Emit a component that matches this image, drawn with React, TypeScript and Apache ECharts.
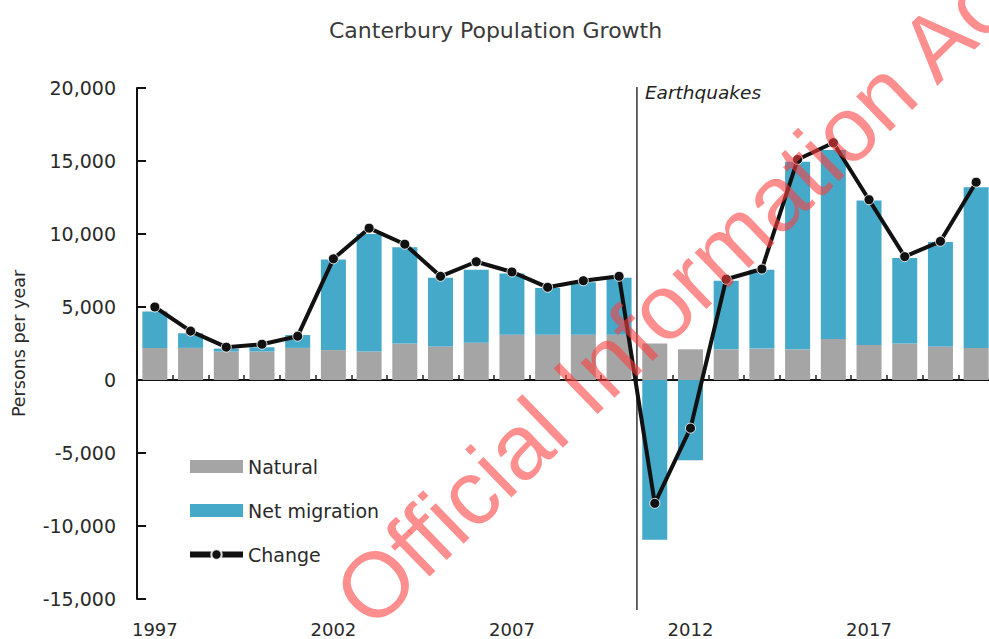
import React, { useEffect, useRef } from "react";
import * as echarts from "echarts";

const years = [
  "1997", "1998", "1999", "2000", "2001", "2002", "2003", "2004", "2005", "2006", "2007", "2008",
  "2009", "2010", "2011", "2012", "2013", "2014", "2015", "2016", "2017", "2018", "2019", "2020",
];
const natural = [
  2200, 2200, 1950, 1950, 2200, 2050, 1950, 2500, 2300, 2550, 3100, 3100,
  3100, 3100, 2500, 2100, 2100, 2150, 2100, 2800, 2400, 2500, 2300, 2200,
];
const netMigration = [
  2500, 1000, 200, 300, 880, 6200, 8050, 6600, 4700, 5000, 4200, 3200,
  3600, 3900, -10950, -5500, 4700, 5400, 12850, 12950, 9900, 5850, 7150, 11000,
];
const change = [
  5000, 3350, 2250, 2450, 3000, 8300, 10400, 9300, 7100, 8100, 7400, 6350,
  6800, 7100, -8450, -3300, 6900, 7600, 15100, 16250, 12350, 8450, 9500, 13550,
];
const yMin = -15000;
const yMax = 20000;
const yStep = 5000;
const earthquakeAfter = "2010";
const earthquakeBefore = "2011";

const FONT = "DejaVu Sans";
const TXT = "#2a2a2a";

export default function App() {
  const ref = useRef<HTMLDivElement>(null);
  useEffect(() => {
    const chart = echarts.init(ref.current!, null, { renderer: "svg" });
    chart.setOption({
      animation: false,
      backgroundColor: "#ffffff",
      title: {
        text: "Canterbury Population Growth",
        left: 324,
        top: 14,
        textStyle: { fontFamily: FONT, fontSize: 22, fontWeight: "normal", color: "#3a3a3a" },
      },
      grid: { left: 137, top: 88, width: 857, height: 511, containLabel: false, outerBoundsMode: "none" },
      legend: {
        orient: "vertical",
        left: 187,
        top: 457,
        padding: 0,
        itemWidth: 53,
        itemHeight: 13,
        itemGap: 25,
        textStyle: { fontFamily: FONT, fontSize: 19, color: TXT },
        data: [
          { name: "Natural", icon: "rect" },
          { name: "Net migration", icon: "rect" },
          { name: "Change", lineStyle: { width: 6, color: "#111" } },
        ],
      },
      xAxis: [
        {
          type: "category",
          data: years,
          axisLine: { onZero: true, lineStyle: { color: "#111", width: 2 } },
          axisTick: { show: true, inside: true, length: 5, interval: 0, lineStyle: { color: "#222", width: 1.5 } },
          axisLabel: { show: false },
          splitLine: { show: false },
        },
        {
          type: "category",
          data: years,
          position: "bottom",
          axisLine: { show: false, onZero: false },
          axisTick: { show: false },
          axisLabel: { interval: 4, margin: 21, fontFamily: FONT, fontSize: 18, color: TXT },
          splitLine: { show: false },
        },
      ],
      yAxis: {
        type: "value",
        min: yMin,
        max: yMax,
        interval: yStep,
        name: "Persons per year",
        nameLocation: "middle",
        nameRotate: 90,
        nameGap: 109,
        nameTextStyle: { fontFamily: FONT, fontSize: 17.5, color: TXT },
        axisLine: { show: true, lineStyle: { color: "#111", width: 2 } },
        axisTick: { show: true, inside: true, length: 9, lineStyle: { color: "#111", width: 2 } },
        axisLabel: {
          margin: 21,
          fontFamily: FONT,
          fontSize: 19,
          color: TXT,
          formatter: (v: number) => v.toLocaleString("en-US"),
        },
        splitLine: { show: false },
      },
      series: [
        {
          name: "Natural",
          type: "bar",
          stack: "growth",
          data: natural,
          barWidth: "70%",
          itemStyle: { color: "#a5a5a5" },
          z: 2,
        },
        {
          name: "Net migration",
          type: "bar",
          stack: "growth",
          data: netMigration,
          barWidth: "70%",
          itemStyle: { color: "#45a9c9" },
          z: 2,
        },
        {
          name: "Change",
          type: "line",
          data: change,
          symbol: "circle",
          symbolSize: 10,
          lineStyle: { color: "#111", width: 4 },
          itemStyle: { color: "#111", borderColor: "rgba(255,255,255,0.85)", borderWidth: 1 },
          z: 5,
        },
      ],
    });

    const xa = chart.convertToPixel({ xAxisIndex: 0 }, earthquakeAfter) as number;
    const xb = chart.convertToPixel({ xAxisIndex: 0 }, earthquakeBefore) as number;
    const lineX = (xa + xb) / 2;
    const yTop = chart.convertToPixel({ yAxisIndex: 0 }, yMax) as number;
    const yBot = chart.convertToPixel({ yAxisIndex: 0 }, yMin) as number;

    chart.setOption({
      graphic: [
        {
          type: "line",
          shape: { x1: lineX, y1: yTop - 1, x2: lineX, y2: yBot + 11 },
          style: { stroke: "#333", lineWidth: 1.5 },
          z: 4,
        },
        {
          type: "text",
          x: lineX + 8,
          y: yTop + 4,
          style: {
            text: "Earthquakes",
            fontFamily: FONT,
            fontSize: 18.5,
            fontStyle: "italic",
            fill: "#222",
            textVerticalAlign: "middle",
          },
          z: 4,
        },
        {
          type: "text",
          x: 350,
          y: 609,
          rotation: (44 * Math.PI) / 180,
          style: {
            text: "Official Information Act",
            fontFamily: "Liberation Sans",
            fontSize: 92,
            fill: "rgba(255,60,60,0.58)",
            textAlign: "left",
            textVerticalAlign: "middle",
          },
          z: 100,
        },
      ],
    });

    return () => chart.dispose();
  }, []);
  return (
    <div
      ref={ref}
      style={{ position: "fixed", left: 0, top: 0, width: 989, height: 639 }}
    />
  );
}
